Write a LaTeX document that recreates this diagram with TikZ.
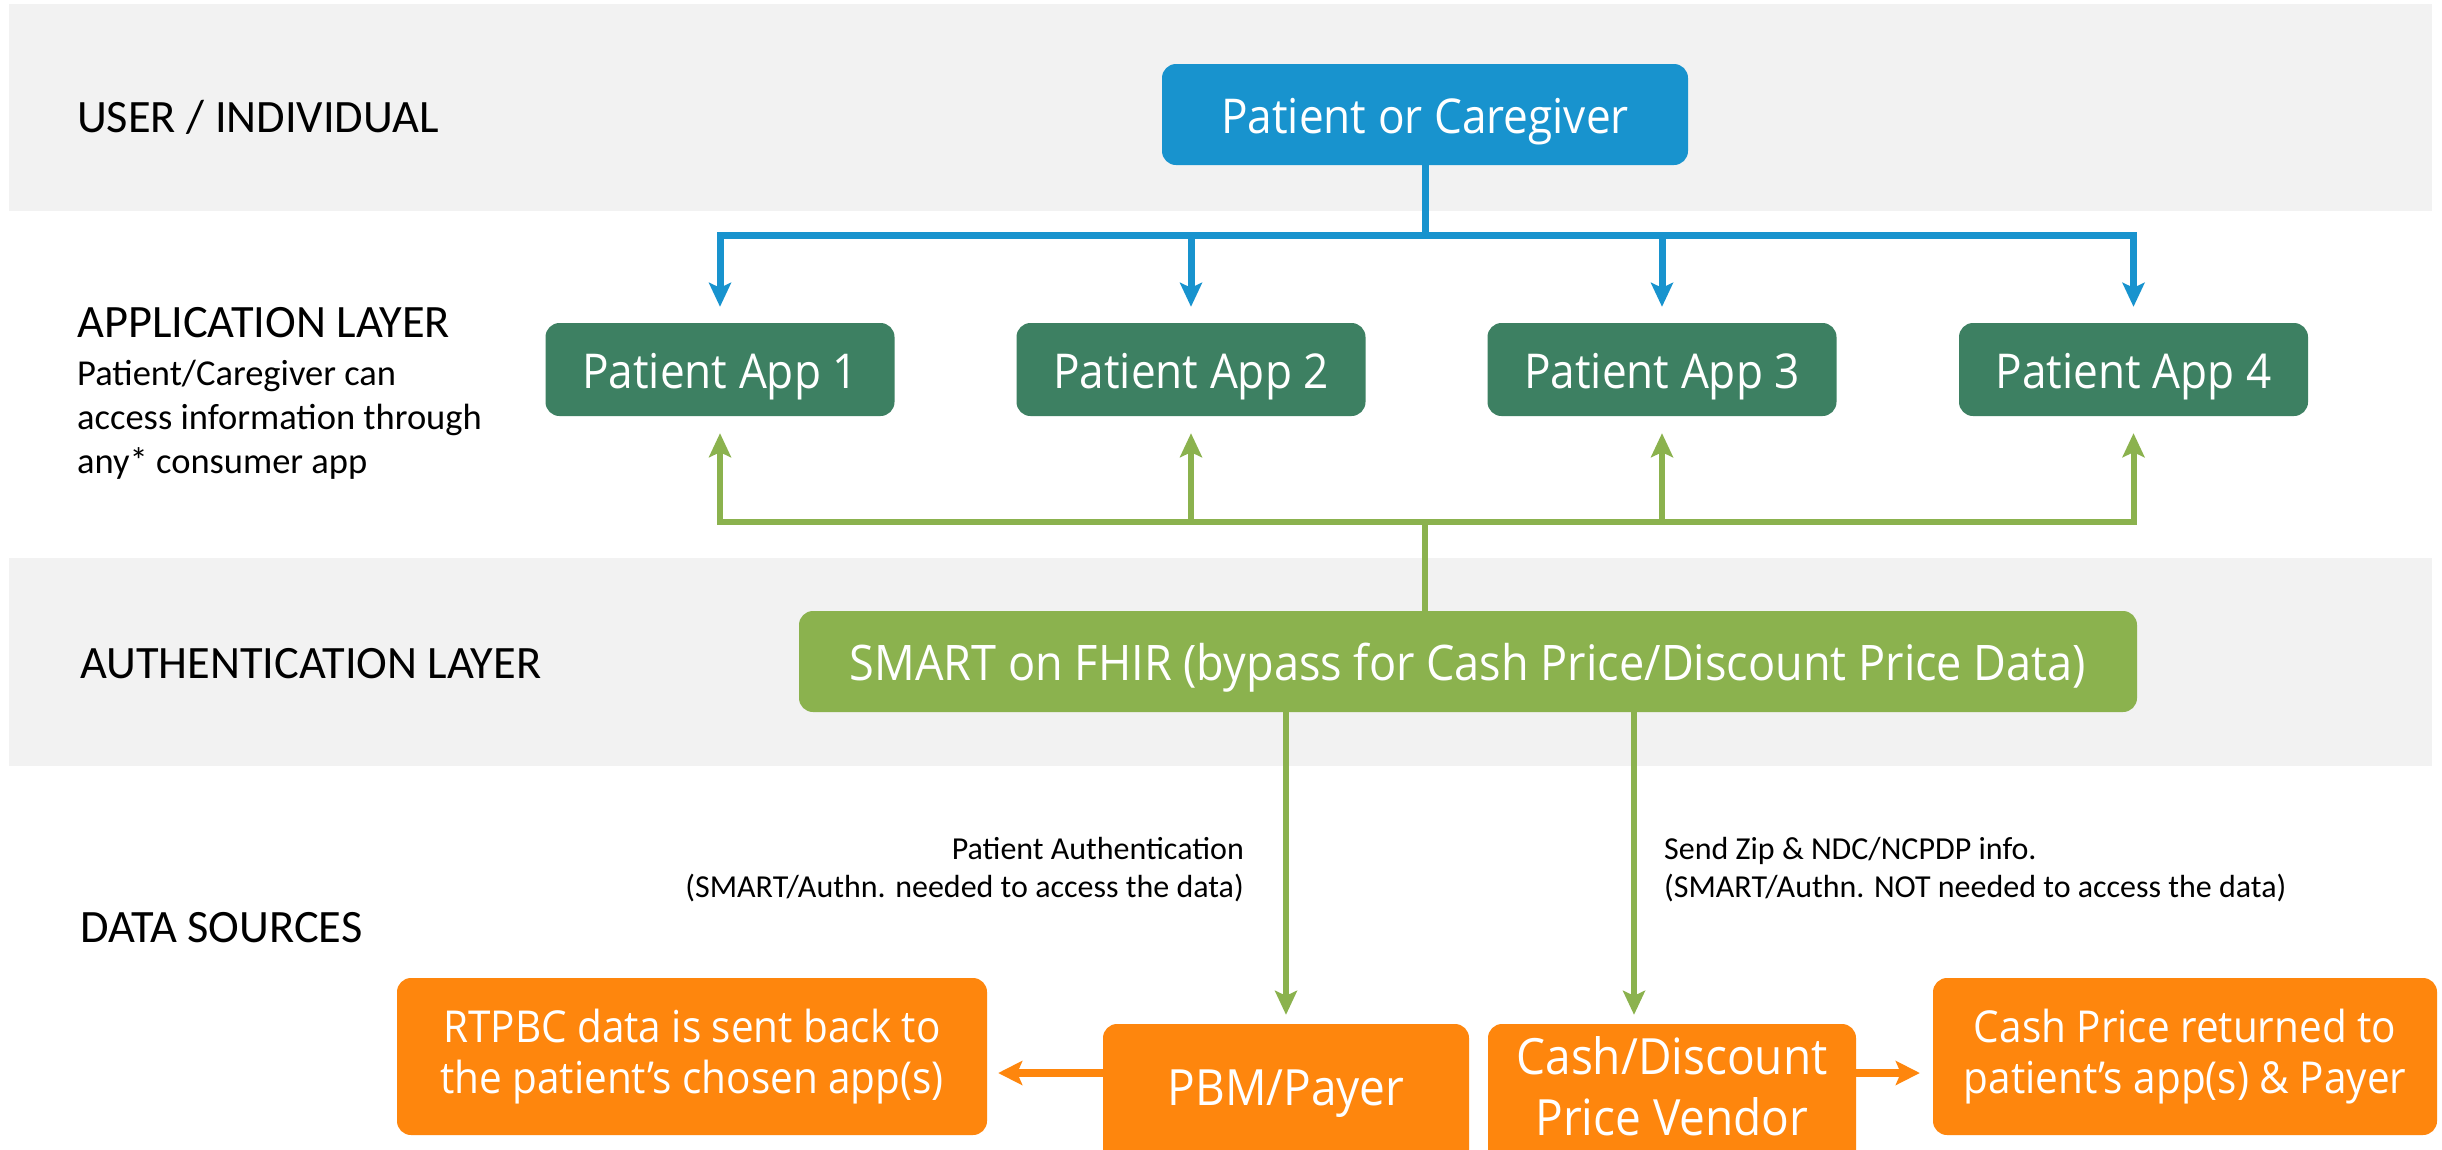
\documentclass[tikz,border=0pt]{standalone}
\usepackage{fontspec}
\setmainfont{Carlito}
\newfontfamily\boxfont{Open Sans}[FakeStretch=0.92]
\usetikzlibrary{arrows.meta}
\definecolor{bandgrey}{RGB}{242,242,242}
\definecolor{pblue}{RGB}{24,147,206}
\definecolor{appgreen}{RGB}{61,128,98}
\definecolor{lgreen}{RGB}{139,178,78}
\definecolor{porange}{RGB}{254,134,13}
\begin{document}
\begin{tikzpicture}[x=1pt,y=-1pt,
  band/.style={fill=bandgrey, draw=none},
  layerlabel/.style={anchor=base west, inner sep=0pt, font=\fontsize{46.4}{56}\selectfont},
  sublabel/.style={anchor=north west, align=left, inner sep=0pt, font=\fontsize{36.5}{44}\selectfont},
  note/.style={inner sep=0pt, font=\fontsize{32}{38}\selectfont},
  basebox/.style={text=white, rounded corners=14pt, inner sep=0pt, align=center},
  onebox/.style={basebox, text height=40pt, text depth=3pt},
  pcbox/.style={onebox, fill=pblue, minimum width=526pt, minimum height=101pt, font=\boxfont\fontsize{48}{58}\selectfont},
  appbox/.style={onebox, fill=appgreen, minimum width=349pt, minimum height=93pt, font=\boxfont\fontsize{48}{58}\selectfont},
  smartbox/.style={onebox, fill=lgreen, minimum width=1338pt, minimum height=101pt, font=\boxfont\fontsize{49}{58}\selectfont},
  obox/.style={basebox, fill=porange, font=\boxfont\fontsize{44}{51}\selectfont},
  obigbox/.style={basebox, fill=porange, minimum height=140pt, font=\boxfont\fontsize{50}{61}\selectfont},
  bline/.style={draw=pblue, line width=7pt},
  barrow/.style={bline, -{Stealth[length=24pt,width=22pt,inset=5pt]}, shorten >=16pt},
  gline/.style={draw=lgreen, line width=6pt},
  garrow/.style={gline, -{Stealth[length=24pt,width=22pt,inset=5pt]}},
  oarrow/.style={draw=porange, line width=8pt, -{Stealth[length=24pt,width=24pt,inset=5pt]}}
]
\useasboundingbox (0,0) rectangle (2442,1149);
\clip (0,0) rectangle (2442,1149);
\fill[white] (0,0) rectangle (2442,1149);
% layer bands
\path[band] (9,4) rectangle (2432,211);
\path[band] (9,558) rectangle (2432,766);
% layer labels
\node[layerlabel] (l1) at (77,132) {USER / INDIVIDUAL};
\node[layerlabel] (l2) at (77,337) {APPLICATION LAYER};
\node[sublabel] (l2s) at (77,360) {Patient/Caregiver can\\access information through\\any* consumer app};
\node[layerlabel] (l3) at (80,678) {AUTHENTICATION LAYER};
\node[layerlabel] (l4) at (80,942) {DATA SOURCES};
% boxes
\node[pcbox] (pc) at (1425,114.5) {Patient or Caregiver};
\node[appbox] (app1) at (720,369.5) {Patient App 1};
\node[appbox] (app2) at (1191,369.5) {Patient App 2};
\node[appbox] (app3) at (1662,369.5) {Patient App 3};
\node[appbox] (app4) at (2133.5,369.5) {Patient App 4};
\node[smartbox] (smart) at (1468,661.5) {SMART on FHIR (bypass for Cash Price/Discount Price Data)};
\node[obox, minimum width=590pt, minimum height=157pt] (rtpbc) at (692,1056.5) {RTPBC data is sent back to\\the patient’s chosen app(s)};
\node[obigbox, minimum width=366pt] (pbm) at (1286,1094) {PBM/Payer};
\node[obigbox, minimum width=368pt, text depth=16pt] (cash) at (1672,1094) {Cash/Discount\\Price Vendor};
\node[obox, minimum width=504pt, minimum height=157pt] (cret) at (2185,1056.5) {Cash Price returned to\\patient’s app(s) \& Payer};
% notes
\node[note, anchor=north east, align=right] (n1) at (1244,837) {Patient Authentication\\(SMART/Authn. needed to access the data)};
\node[note, anchor=north west, align=left] (n2) at (1664,837) {Send Zip \& NDC/NCPDP info.\\(SMART/Authn. NOT needed to access the data)};
% helper coordinates
\coordinate (by) at (0,235);
\coordinate (gy) at (0,522);
\coordinate (oy) at (0,1073);
\coordinate (cx) at (1634,0);
% blue tree
\draw[bline] (pc.south) -- (pc.south |- by);
\draw[bline, line cap=rect] (app1.north |- by) -- (app4.north |- by);
\foreach \a in {app1,app2,app3,app4}
  \draw[barrow] (\a.north |- by) -- (\a.north);
% green tree
\draw[gline] (smart.north -| pc.south) -- (gy -| pc.south);
\draw[gline, line cap=rect] (app1.south |- gy) -- (app4.south |- gy);
\foreach \a in {app1,app2,app3,app4}
  \draw[garrow, shorten >=17pt] (\a.south |- gy) -- (\a.south);
% down to data sources
\draw[garrow, shorten >=9pt] (smart.south -| pbm.north) -- (pbm.north);
\draw[garrow, shorten >=9pt] (smart.south -| cx) -- (cash.north -| cx);
% orange arrows
\draw[oarrow, shorten >=11pt] (pbm.west |- oy) -- (rtpbc.east |- oy);
\draw[oarrow, shorten >=13pt] (cash.east |- oy) -- (cret.west |- oy);
\end{tikzpicture}
\end{document}
